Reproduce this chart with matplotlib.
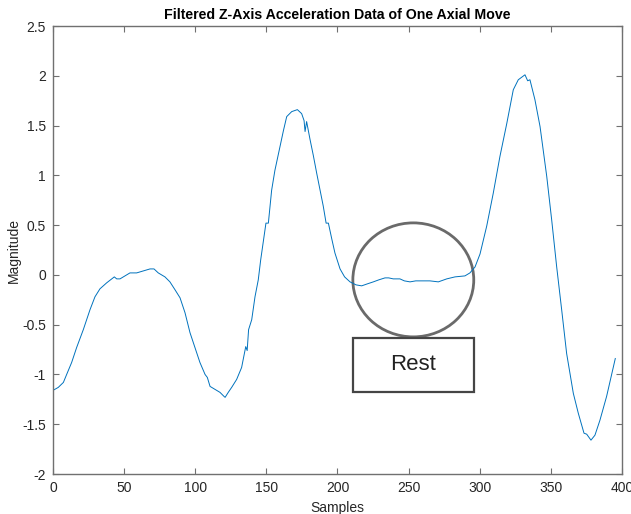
import numpy as np
import matplotlib
matplotlib.use("Agg")
import matplotlib.pyplot as plt
from matplotlib.patches import Ellipse, Rectangle
from matplotlib.ticker import FuncFormatter

plt.rcParams['font.family'] = ['Liberation Sans', 'DejaVu Sans']
plt.rcParams['axes.unicode_minus'] = False

# samples
samples = [0.0, 3.7, 7.3, 9.6, 13.1, 16.6, 21.3, 26.0, 29.5, 33.0, 37.7, 41.3,
           43.1, 44.8, 47.1, 50.6, 54.1, 58.8, 63.5, 68.2, 71.0, 74.0, 78.7,
           82.2, 85.8, 89.3, 92.8, 96.3, 99.8, 103.3, 106.9, 108.5, 110.4,
           113.9, 117.4, 120.2, 121.0, 123.2, 125.6, 129.1, 132.6, 135.5,
           136.5, 137.5, 139.7, 142.0, 144.3, 146.0, 147.5, 149.7, 151.4,
           153.7, 156.0, 159.6, 162.0, 164.3, 167.8, 171.8, 174.8, 176.5,
           177.2, 178.3, 180.7, 183.0, 185.4, 190.0, 192.0, 193.6, 196.0,
           198.2, 201.8, 205.0, 208.8, 213.0, 217.0, 221.0, 225.2, 229.0,
           233.4, 236.0, 239.2, 243.9, 247.0, 251.0, 255.0, 258.0, 262.0,
           265.0, 270.9, 276.8, 282.6, 289.6, 293.1, 296.7, 300.2, 304.9,
           309.5, 314.2, 319.0, 323.6, 327.1, 331.8, 333.7, 335.3, 338.8,
           342.4, 347.1, 350.6, 354.1, 357.6, 361.1, 365.8, 369.3, 373.3,
           375.2, 378.2, 381.0, 384.5, 389.2, 395.3]
magnitude = [-1.16, -1.13, -1.08, -1.00, -0.88, -0.73, -0.55, -0.35, -0.22,
             -0.14, -0.08, -0.04, -0.02, -0.04, -0.04, -0.01, 0.02, 0.02,
             0.04, 0.06, 0.06, 0.02, -0.02, -0.07, -0.15, -0.23, -0.38,
             -0.58, -0.73, -0.88, -1.00, -1.03, -1.12, -1.15, -1.18, -1.22,
             -1.23, -1.18, -1.13, -1.05, -0.93, -0.72, -0.76, -0.55, -0.45,
             -0.22, -0.05, 0.15, 0.30, 0.52, 0.52, 0.85, 1.05, 1.29, 1.45,
             1.59, 1.64, 1.66, 1.62, 1.55, 1.44, 1.54, 1.36, 1.20, 1.02,
             0.69, 0.52, 0.52, 0.36, 0.22, 0.06, -0.02, -0.07, -0.10, -0.11,
             -0.09, -0.07, -0.05, -0.03, -0.03, -0.04, -0.04, -0.06, -0.07,
             -0.06, -0.06, -0.06, -0.06, -0.07, -0.04, -0.02, -0.01, 0.02,
             0.08, 0.21, 0.49, 0.82, 1.19, 1.52, 1.86, 1.96, 2.01, 1.95,
             1.96, 1.76, 1.49, 0.99, 0.55, 0.08, -0.35, -0.79, -1.19, -1.39,
             -1.59, -1.60, -1.66, -1.61, -1.46, -1.22, -0.84]

xticks = [0, 50, 100, 150, 200, 250, 300, 350, 400]
yticks = [-2, -1.5, -1, -0.5, 0, 0.5, 1, 1.5, 2, 2.5]

fig = plt.figure(figsize=(6.31, 5.14), dpi=100)
ax = fig.add_axes([0.084, 0.0778, 0.9017, 0.8716])

ax.plot(samples, magnitude, color='#0072BD', linewidth=0.7)

ax.set_xlim(0, 400)
ax.set_ylim(-2, 2.5)
ax.set_xticks(xticks)
ax.set_yticks(yticks)
fmt = FuncFormatter(lambda v, pos: '%g' % v)
ax.xaxis.set_major_formatter(fmt)
ax.yaxis.set_major_formatter(fmt)

axcol = '#707070'
for s in ax.spines.values():
    s.set_color(axcol)
    s.set_linewidth(1.0)
ax.tick_params(direction='in', top=True, right=True, length=4, width=0.8,
               color=axcol, labelsize=10, labelcolor='#262626', pad=5)

ax.set_xlabel('Samples', fontsize=10, color='#262626', labelpad=4)
ax.set_ylabel('Magnitude', fontsize=10, color='#262626', labelpad=1)
ax.set_title('Filtered Z-Axis Acceleration Data of One Axial Move',
             fontsize=10.2, fontweight='bold', color='black', pad=5)

# "Rest" annotation: circle around the flat segment and a label box
ax.add_patch(Ellipse((253.3, -0.05), 85, 1.145, fill=False,
                     edgecolor='#6a6a6a', linewidth=2.0))
ax.add_patch(Rectangle((210.7, -1.178), 85.3, 0.542, fill=True,
                       facecolor='white', edgecolor='#454545', linewidth=1.6))
ax.text(253.3, -0.905, 'Rest', fontsize=16, color='#222222',
        ha='center', va='center')

fig.savefig('out.png', dpi=100)
